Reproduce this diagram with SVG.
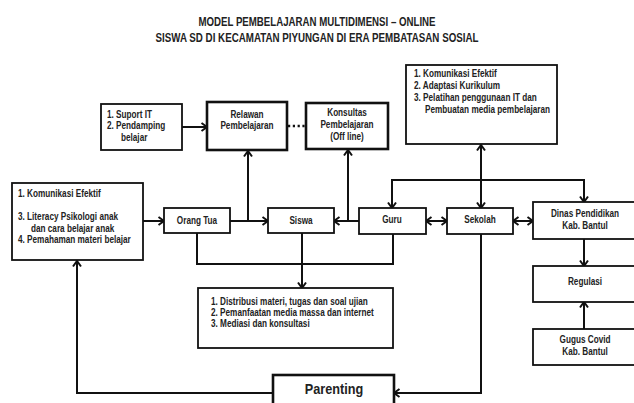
<svg xmlns="http://www.w3.org/2000/svg" width="634" height="403" viewBox="0 0 634 403">
<style>
.box{fill:#fff;stroke:#111;stroke-width:1.8}
.thick{fill:#fff;stroke:#111;stroke-width:2.6}
.t{font-family:"Liberation Sans",Arial,sans-serif;font-weight:bold;font-size:10px;fill:#222}
.c{text-anchor:middle}
.ln{fill:none;stroke:#111;stroke-width:2}
.ttl{font-family:"Liberation Sans",Arial,sans-serif;font-weight:bold;font-size:12.5px;fill:#222;text-anchor:middle}
</style>
<defs>
<marker id="ah" markerUnits="userSpaceOnUse" markerWidth="12" markerHeight="12" refX="8" refY="6" orient="auto-start-reverse">
<path d="M2.5,2 L8,6 L2.5,10" fill="none" stroke="#111" stroke-width="2"/>
</marker>
</defs>
<rect width="634" height="403" fill="#fff"/>
<g id="title">
<text class="ttl" x="317" y="26" textLength="237" lengthAdjust="spacingAndGlyphs">MODEL PEMBELAJARAN MULTIDIMENSI – ONLINE</text>
<text class="ttl" x="317" y="42" textLength="323" lengthAdjust="spacingAndGlyphs">SISWA SD DI KECAMATAN PIYUNGAN DI ERA PEMBATASAN SOSIAL</text>
</g>
<g id="connectors">
<line class="ln" x1="182" y1="127" x2="207" y2="127" marker-end="url(#ah)"/>
<line x1="288" y1="126" x2="305" y2="126" stroke="#111" stroke-width="2.6" stroke-dasharray="2.2,2.6"/>
<line class="ln" x1="143" y1="221" x2="164" y2="221" marker-end="url(#ah)"/>
<line class="ln" x1="230" y1="221" x2="268" y2="221" marker-end="url(#ah)"/>
<line class="ln" x1="248" y1="221" x2="248" y2="151" marker-end="url(#ah)"/>
<line class="ln" x1="359" y1="221" x2="334" y2="221" marker-end="url(#ah)"/>
<line class="ln" x1="348" y1="221" x2="348" y2="150" marker-end="url(#ah)"/>
<line class="ln" x1="426" y1="221" x2="447" y2="221" marker-start="url(#ah)" marker-end="url(#ah)"/>
<line class="ln" x1="513" y1="221" x2="533" y2="221" marker-start="url(#ah)" marker-end="url(#ah)"/>
<polyline class="ln" points="392,208 392,180 584,180 584,202" marker-start="url(#ah)" marker-end="url(#ah)"/>
<line class="ln" x1="481" y1="145" x2="481" y2="208" marker-start="url(#ah)" marker-end="url(#ah)"/>
<polyline class="ln" points="197,233 197,264 393,264 393,234"/>
<line class="ln" x1="302" y1="233" x2="302" y2="288" marker-end="url(#ah)"/>
<polyline class="ln" points="481,234 481,393 394,393" marker-end="url(#ah)"/>
<polyline class="ln" points="273,393 77,393 77,261" marker-end="url(#ah)"/>
<line class="ln" x1="584" y1="239" x2="584" y2="266" marker-end="url(#ah)"/>
<line class="ln" x1="584" y1="329" x2="584" y2="302" marker-end="url(#ah)"/>
</g>
<g id="suport">
<rect class="box" x="101" y="104" width="81" height="46"/>
<text class="t" transform="translate(107,117.5) scale(0.82,1)">1. Suport IT</text>
<text class="t" transform="translate(107,129) scale(0.82,1)">2. Pendamping</text>
<text class="t" transform="translate(121,141) scale(0.82,1)">belajar</text>
</g>
<g id="relawan">
<rect class="thick" x="207" y="102" width="80" height="48"/>
<text class="t c" transform="translate(247,117.5) scale(0.82,1)">Relawan</text>
<text class="t c" transform="translate(247,128.5) scale(0.82,1)">Pembelajaran</text>
</g>
<g id="konsultas">
<rect class="thick" x="306" y="103" width="82" height="46"/>
<text class="t c" transform="translate(347,116) scale(0.82,1)">Konsultas</text>
<text class="t c" transform="translate(347,128) scale(0.82,1)">Pembelajaran</text>
<text class="t c" transform="translate(347,140) scale(0.82,1)">(Off line)</text>
</g>
<g id="sekolah-program">
<rect class="box" x="406" y="65" width="151" height="79"/>
<text class="t" transform="translate(414,77) scale(0.82,1)">1. Komunikasi Efektif</text>
<text class="t" transform="translate(414,89) scale(0.82,1)">2. Adaptasi Kurikulum</text>
<text class="t" transform="translate(414,101) scale(0.82,1)">3. Pelatihan penggunaan IT dan</text>
<text class="t" transform="translate(425,113) scale(0.82,1)">Pembuatan media pembelajaran</text>
</g>
<g id="ortu-program">
<rect class="box" x="12" y="183" width="131" height="77"/>
<text class="t" transform="translate(18,197) scale(0.82,1)">1. Komunikasi Efektif</text>
<text class="t" transform="translate(18,220) scale(0.82,1)">3. Literacy Psikologi anak</text>
<text class="t" transform="translate(31,231.5) scale(0.82,1)">dan cara belajar anak</text>
<text class="t" transform="translate(18,243) scale(0.82,1)">4. Pemahaman materi belajar</text>
</g>
<g id="orangtua">
<rect class="box" x="164" y="208" width="66" height="25"/>
<text class="t c" transform="translate(197,223.5) scale(0.82,1)">Orang Tua</text>
</g>
<g id="siswa">
<rect class="box" x="268" y="208" width="66" height="25"/>
<text class="t c" transform="translate(301,223.5) scale(0.82,1)">Siswa</text>
</g>
<g id="guru">
<rect class="box" x="359" y="208" width="67" height="26"/>
<text class="t c" transform="translate(392,222.5) scale(0.82,1)">Guru</text>
</g>
<g id="sekolah">
<rect class="box" x="447" y="208" width="66" height="26"/>
<text class="t c" transform="translate(480,222.5) scale(0.82,1)">Sekolah</text>
</g>
<g id="dinas">
<rect class="box" x="533" y="202" width="104" height="37"/>
<text class="t c" transform="translate(585,217) scale(0.82,1)">Dinas Pendidikan</text>
<text class="t c" transform="translate(585,229) scale(0.82,1)">Kab. Bantul</text>
</g>
<g id="regulasi">
<rect class="box" x="533" y="266" width="104" height="36"/>
<text class="t c" transform="translate(585,284.5) scale(0.82,1)">Regulasi</text>
</g>
<g id="gugus">
<rect class="box" x="533" y="329" width="104" height="36"/>
<text class="t c" transform="translate(585,342.5) scale(0.82,1)">Gugus Covid</text>
<text class="t c" transform="translate(585,354.5) scale(0.82,1)">Kab. Bantul</text>
</g>
<g id="distribusi">
<rect class="box" x="198" y="288" width="195" height="60"/>
<text class="t" transform="translate(211,304.5) scale(0.82,1)">1. Distribusi materi, tugas dan soal ujian</text>
<text class="t" transform="translate(211,315.5) scale(0.82,1)">2. Pemanfaatan media massa dan internet</text>
<text class="t" transform="translate(211,326.5) scale(0.82,1)">3. Mediasi dan konsultasi</text>
</g>
<g id="parenting">
<rect class="thick" x="273" y="375" width="121" height="40"/>
<text class="t c" style="font-size:15.5px" transform="translate(334,394) scale(0.82,1)">Parenting</text>
</g>
</svg>
